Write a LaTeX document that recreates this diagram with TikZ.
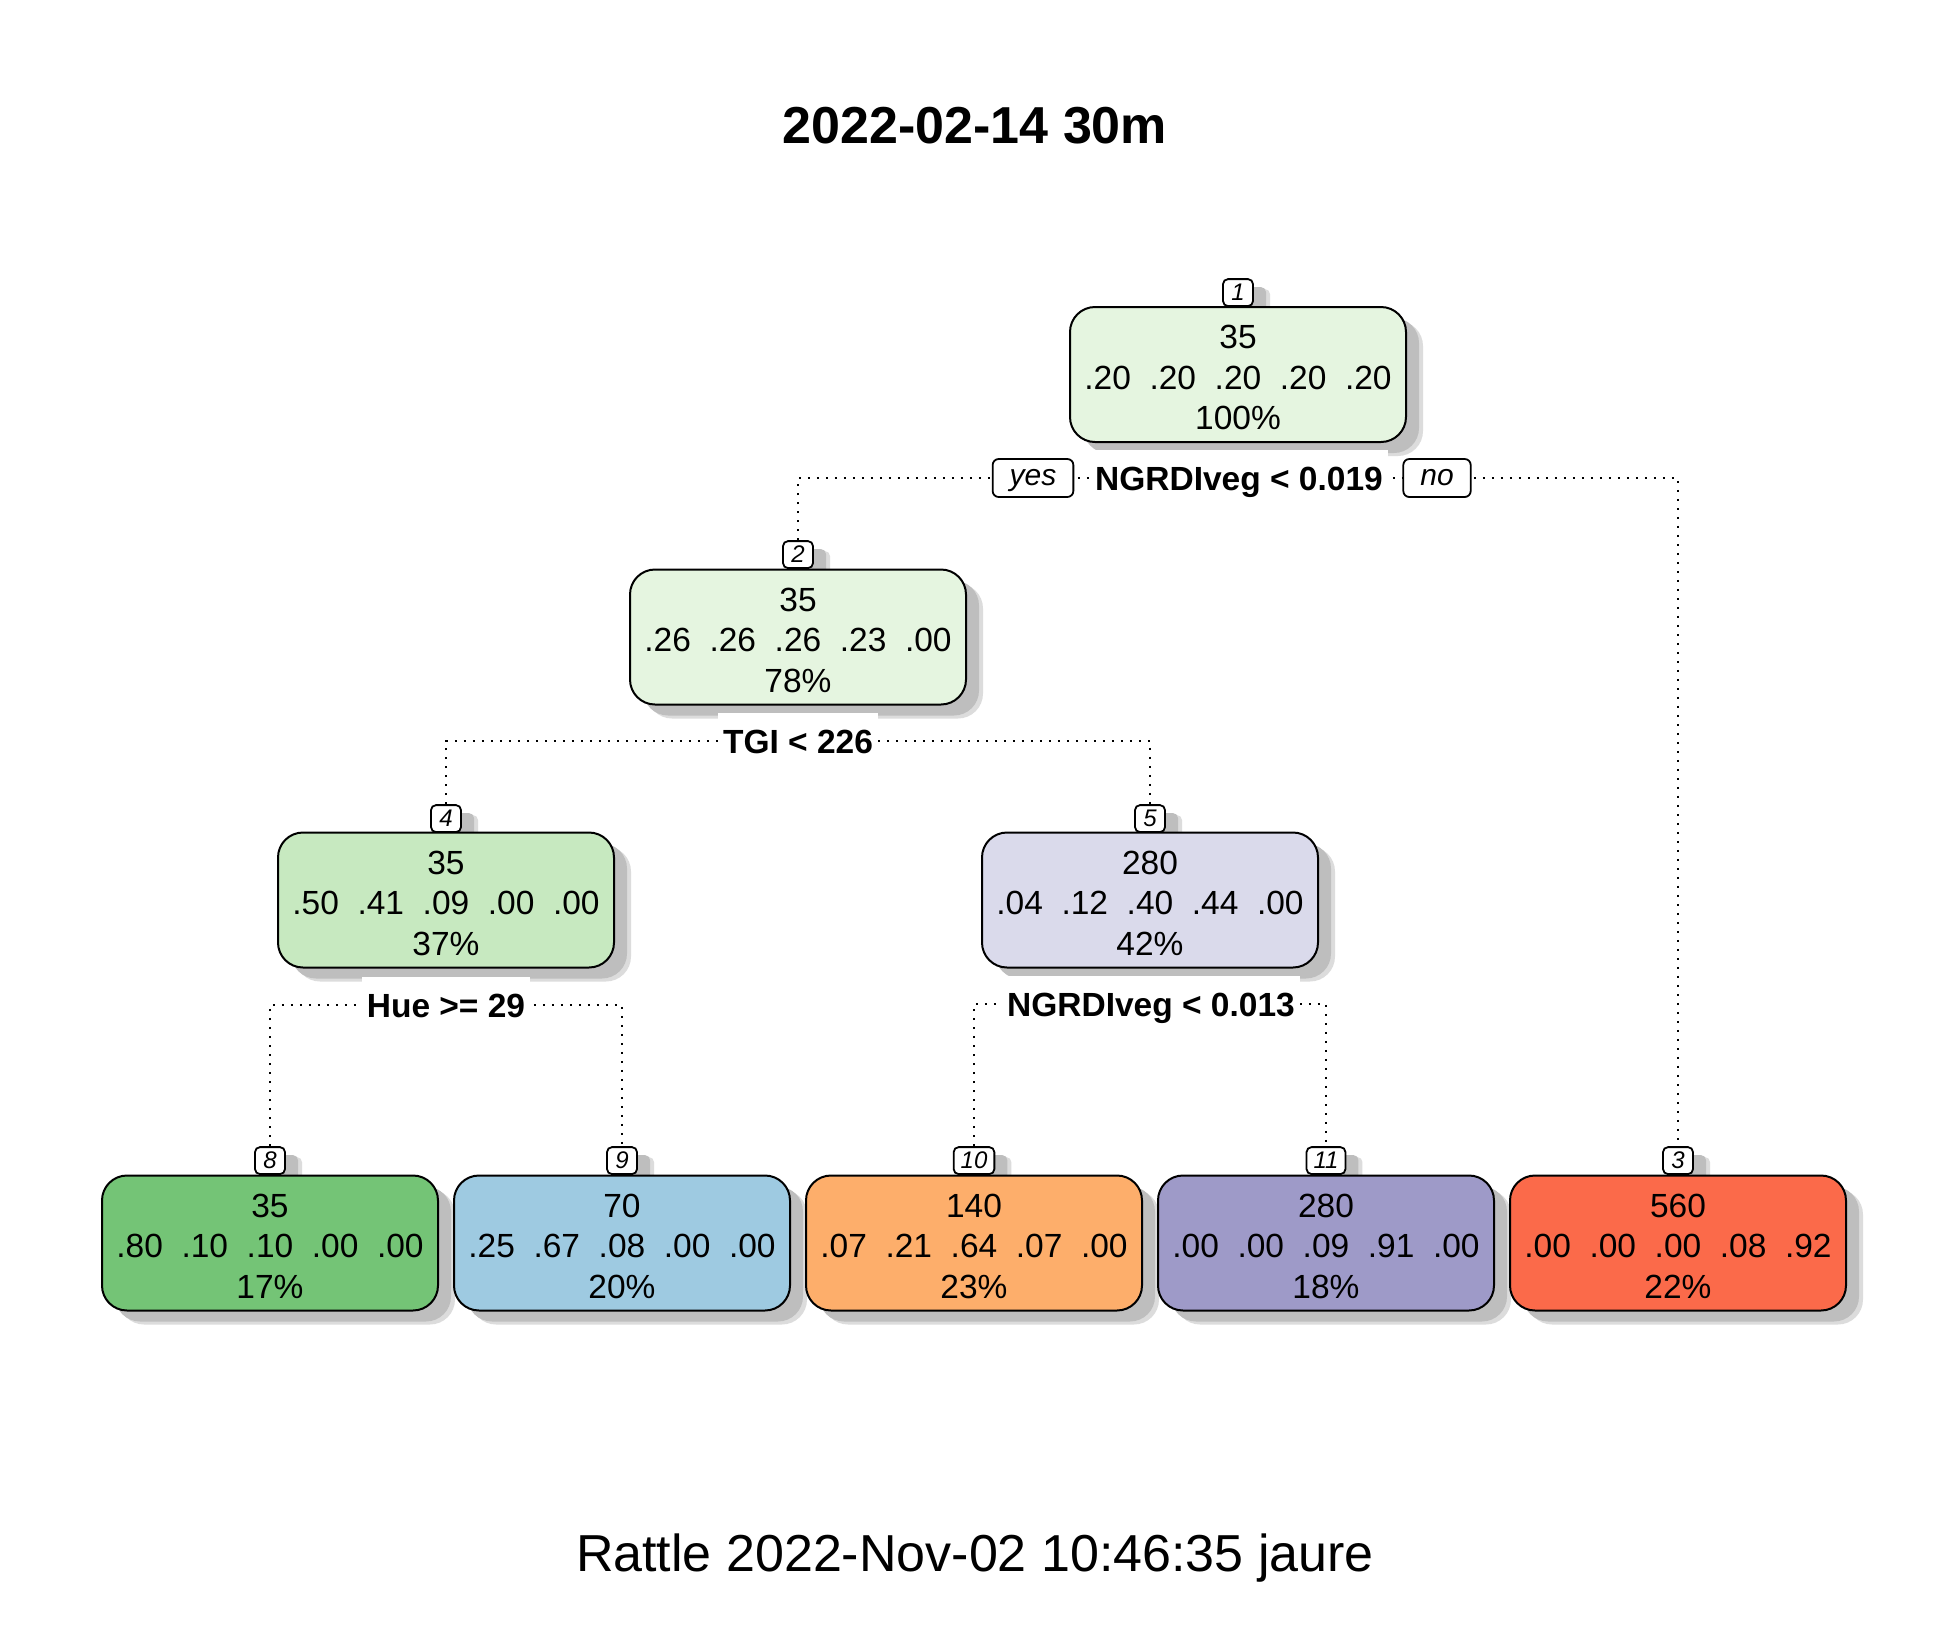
\documentclass[tikz,border=0pt]{standalone}
\usepackage{fontspec}
\setmainfont{Liberation Sans}
\usetikzlibrary{shadows}
\pgfdeclarelayer{background}
\pgfsetlayers{background,main}
\definecolor{shdark}{HTML}{BEBEBE}
\definecolor{shlight}{HTML}{DCDCDC}
\definecolor{cA}{HTML}{E5F5E0}
\definecolor{cB}{HTML}{E5F5E0}
\definecolor{cD}{HTML}{C7E9C0}
\definecolor{cE}{HTML}{DADAEB}
\definecolor{cH}{HTML}{74C476}
\definecolor{cI}{HTML}{9ECAE1}
\definecolor{cJ}{HTML}{FDAE6B}
\definecolor{cK}{HTML}{9E9AC8}
\definecolor{cC}{HTML}{FB6A4A}
\newcommand{\fl}{\rule{0pt}{15pt}}
\begin{document}
\begin{tikzpicture}[x=0.5pt,y=-0.5pt,
  bshadow/.style={drop shadow={shadow xshift=8.5pt,shadow yshift=-7pt,fill=shlight,opacity=1},
                  drop shadow={shadow xshift=6.5pt,shadow yshift=-5.5pt,fill=shdark,opacity=1}},
  lshadow/.style={drop shadow={shadow xshift=8.5pt,shadow yshift=-5pt,fill=shlight,opacity=1},
                  drop shadow={shadow xshift=6.5pt,shadow yshift=-4pt,fill=shdark,opacity=1}},
  tbox/.style={draw=black, line width=1pt, rounded corners=12.5pt, minimum width=168pt,
               minimum height=67.5pt, inner sep=0pt, align=center,
               font=\fontsize{16.75}{20.25}\selectfont, bshadow},
  nlab/.style={draw=black, fill=white, line width=0.9pt, rounded corners=2.5pt,
               font=\fontsize{12}{12}\selectfont\itshape, minimum width=15pt,
               minimum height=13.5pt, inner xsep=3.5pt, inner ysep=0pt, anchor=south, lshadow},
  split/.style={fill=white, inner xsep=2.5pt, inner ysep=0pt, text height=12pt, text depth=0pt,
                minimum height=28pt, font=\fontsize{16.75}{16.75}\selectfont\bfseries},
  yn/.style={draw=black, fill=white, line width=0.9pt, rounded corners=3pt,
             font=\fontsize{15}{15}\selectfont\itshape, inner xsep=8.5pt, inner ysep=0pt,
             text height=7.8pt, text depth=0pt, minimum height=19pt},
  edge/.style={line width=1pt, dash pattern=on 1pt off 3.5pt}
]
\useasboundingbox (0,0) rectangle (1950,1650);
\begin{pgfonlayer}{background}
\fill[white] (0,0) rectangle (1950,1650);
\end{pgfonlayer}

% titles
\node[anchor=base, font=\fontsize{26}{26}\selectfont\bfseries] (title) at (975,143) {2022-02-14 30m};
\node[anchor=base, font=\fontsize{26}{26}\selectfont] (foot) at (975,1571) {Rattle 2022-Nov-02 10:46:35 jaure};

% node number labels
\node[nlab] (n1) at (1238,307) {1};
\node[nlab] (n2) at (798,569) {2};
\node[nlab] (n4) at (446,833) {4};
\node[nlab] (n5) at (1150,833) {5};
\node[nlab] (n8) at (270,1175) {8};
\node[nlab] (n9) at (622,1175) {9};
\node[nlab] (n10) at (974,1175) {10};
\node[nlab] (n11) at (1326,1175) {11};
\node[nlab] (n3) at (1678,1175) {3};

% boxes
\node[tbox, fill=cA] (b1) at (1238,374.5) {\fl 35\\.20~~.20~~.20~~.20~~.20\\100\%};
\node[tbox, fill=cB] (b2) at (798,637) {\fl 35\\.26~~.26~~.26~~.23~~.00\\78\%};
\node[tbox, fill=cD] (b4) at (446,900) {\fl 35\\.50~~.41~~.09~~.00~~.00\\37\%};
\node[tbox, fill=cE] (b5) at (1150,900) {\fl 280\\.04~~.12~~.40~~.44~~.00\\42\%};
\node[tbox, fill=cH] (b8) at (270,1243) {\fl 35\\.80~~.10~~.10~~.00~~.00\\17\%};
\node[tbox, fill=cI] (b9) at (622,1243) {\fl 70\\.25~~.67~~.08~~.00~~.00\\20\%};
\node[tbox, fill=cJ] (b10) at (974,1243) {\fl 140\\.07~~.21~~.64~~.07~~.00\\23\%};
\node[tbox, fill=cK] (b11) at (1326,1243) {\fl 280\\.00~~.00~~.09~~.91~~.00\\18\%};
\node[tbox, fill=cC] (b3) at (1678,1243) {\fl 560\\.00~~.00~~.00~~.08~~.92\\22\%};

% split labels
\node[split] (s1) at (1239,478) {NGRDIveg < 0.019};
\node[split] (s2) at (798,741) {TGI < 226};
\node[split] (s4) at (446,1005) {Hue >= 29};
\node[split] (s5) at (1151,1004) {NGRDIveg < 0.013};
\node[yn] (yes) at (1033,478) {yes};
\node[yn] (no) at (1437,478) {no};

% connectors
\begin{pgfonlayer}{background}
\draw[edge] (n2.north) -- (n2.north |- s1) -- (n3.north |- s1) -- (n3.north);
\draw[edge] (n4.north) -- (n4.north |- s2) -- (n5.north |- s2) -- (n5.north);
\draw[edge] (n8.north) -- (n8.north |- s4) -- (n9.north |- s4) -- (n9.north);
\draw[edge] (n10.north) -- (n10.north |- s5) -- (n11.north |- s5) -- (n11.north);
\end{pgfonlayer}
\end{tikzpicture}
\end{document}
